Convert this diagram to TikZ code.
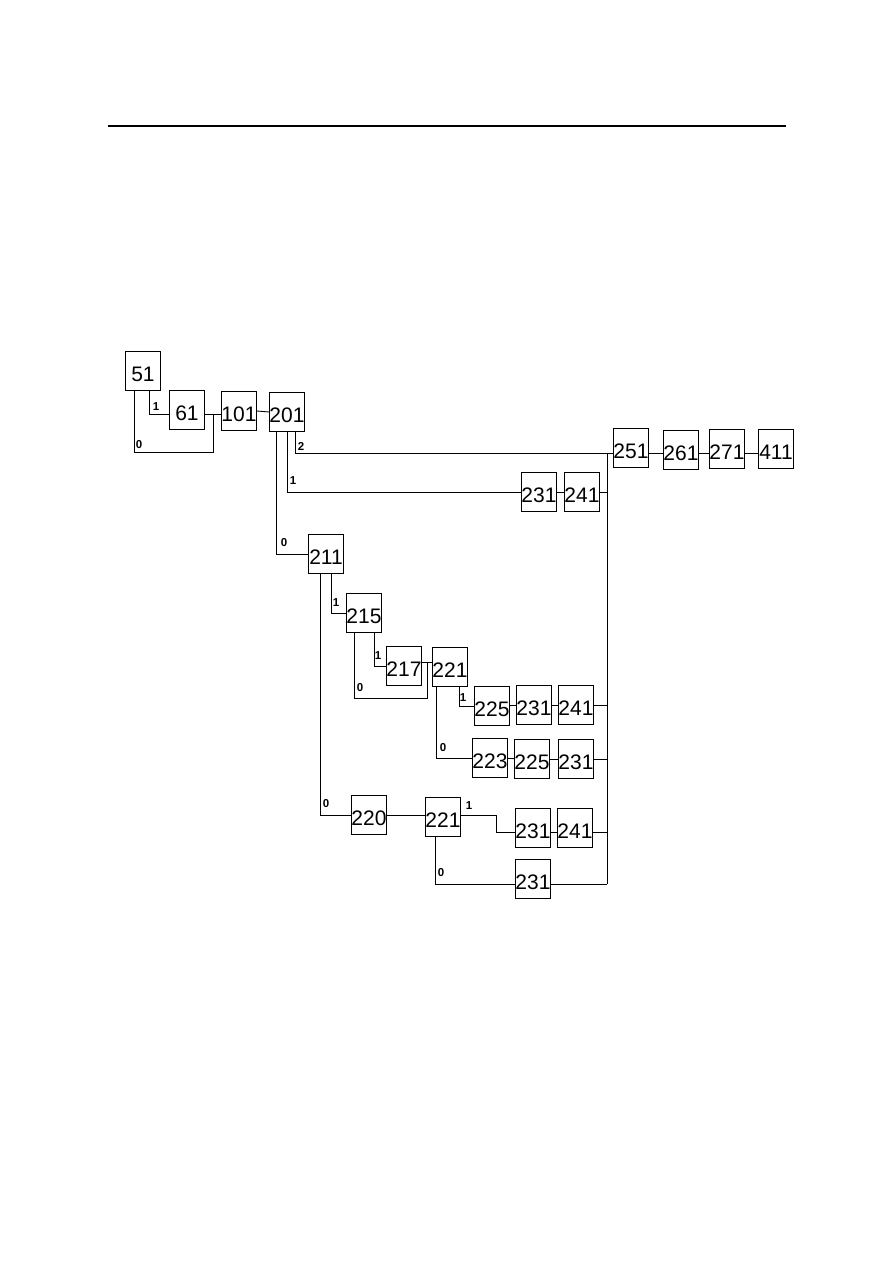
\documentclass[tikz,border=0pt]{standalone}
\usepackage{fontspec}
\setmainfont{Liberation Sans}
\usetikzlibrary{positioning}

\begin{document}
\begin{tikzpicture}[x=1pt, y=-1pt,
		box/.style={draw, line width=0.9pt, minimum width=35pt, minimum height=39pt, inner sep=0pt, text height=20pt, text depth=0pt, font=\fontsize{21}{21}\selectfont},
		lbl/.style={inner sep=0pt, font=\fontsize{11.5}{11.5}\selectfont\bfseries},
		wire/.style={line width=0.9pt}]
		\useasboundingbox (0,0) rectangle (893,1263);
		\draw[line width=2pt] (108,126) -- (786,126);

		\node[box] (n51) at (143, 371) {51};
		\node[box] (n61) at (187, 410) {61};
		\node[box] (n101) at (239, 411) {101};
		\node[box] (n201) at (287, 412) {201};
		\node[box] (n251) at (631, 448) {251};
		\node[box] (n261) at (681, 450) {261};
		\node[box] (n271) at (727, 449) {271};
		\node[box] (n411) at (776, 449) {411};
		\node[box] (n231a) at (539, 492) {231};
		\node[box] (n241a) at (582, 492) {241};
		\node[box] (n211) at (326, 554) {211};
		\node[box] (n215) at (364, 613) {215};
		\node[box] (n217) at (404, 666) {217};
		\node[box] (n221a) at (450, 667) {221};
		\node[box] (n225a) at (492, 706) {225};
		\node[box] (n231b) at (534, 705) {231};
		\node[box] (n241b) at (576, 705) {241};
		\node[box] (n223) at (490, 758) {223};
		\node[box] (n225b) at (532, 759) {225};
		\node[box] (n231c) at (576, 759) {231};
		\node[box] (n220) at (369, 815) {220};
		\node[box] (n221b) at (443, 817) {221};
		\node[box] (n231d) at (533, 828) {231};
		\node[box] (n241c) at (575, 828) {241};
		\node[box] (n231e) at (533, 879) {231};

		\coordinate (j1) at (213, 414);
		\coordinate (j2) at (427, 662);
		\coordinate (bus) at (607, 453);
		\coordinate (busend) at (607, 884);

		% start
		\draw[wire] ([xshift=6]n51.south) |- ([yshift=-4]n61.west);
		\draw[wire] ([xshift=-9]n51.south) -- ++(0,61) -| (j1);
		\draw[wire] ([yshift=-4]n61.east) -- (n101.west |- j1);
		\draw[wire] (n101.east) -- (n201.west);

		% branches of 201
		\draw[wire] ([xshift=8]n201.south) |- (n251.west |- bus);
		\draw[wire] (n201.south) |- (n231a.west);
		\draw[wire] ([xshift=-11]n201.south) |- (n211.west);
		\draw[wire] (n231a) -- (n241a);
		\draw[wire] (n241a.east) -- (n241a.east -| bus);

		% tail
		\draw[wire] (n251.east |- bus) -- (n261.west |- bus);
		\draw[wire] (n261.east |- bus) -- (n271.west |- bus);
		\draw[wire] (n271.east |- bus) -- (n411.west |- bus);
		\draw[wire] (bus) -- (busend);

		% branches of 211
		\draw[wire] ([xshift=5]n211.south) |- (n215.west);
		\draw[wire] ([xshift=-6]n211.south) |- (n220.west);
		\draw[wire] ([xshift=10]n215.south) |- (n217.west);
		\draw[wire] ([xshift=-10]n215.south) -- ++(0,65) -| (j2);
		\draw[wire] ([yshift=4]n217.east) -- (n221a.west |- j2);

		% branches of upper 221
		\draw[wire] ([xshift=9]n221a.south) |- (n225a.west);
		\draw[wire] ([xshift=-14]n221a.south) |- (n223.west);
		\draw[wire] (n225a) -- (n231b);
		\draw[wire] (n231b) -- (n241b);
		\draw[wire] (n241b.east) -- (n241b.east -| bus);
		\draw[wire] (n223) -- (n225b);
		\draw[wire] (n225b) -- (n231c);
		\draw[wire] (n231c.east) -- (n231c.east -| bus);

		% branches of lower 221
		\draw[wire] (n220.east) -- (n221b.west |- n220.east);
		\draw[wire] ([yshift=2]n221b.east) -- ++(35,0) |- ([yshift=-4]n231d.west);
		\draw[wire] ([yshift=-4]n231d.east) -- ([yshift=-4]n241c.west);
		\draw[wire] ([yshift=-4]n241c.east) -- ([yshift=-4]n241c.east -| bus);
		\draw[wire] ([xshift=-8]n221b.south) |- (n231e.west |- busend);
		\draw[wire] (n231e.east |- busend) -- (busend);

		\node[lbl] (l51a) at (156, 407) {1};
		\node[lbl] (l51b) at (139, 445) {0};
		\node[lbl] (l201c) at (301, 446) {2};
		\node[lbl] (l201b) at (293, 481) {1};
		\node[lbl] (l201a) at (284, 543) {0};
		\node[lbl] (l211b) at (336, 603) {1};
		\node[lbl] (l215b) at (378, 656) {1};
		\node[lbl] (l215a) at (360, 688) {0};
		\node[lbl] (l221b) at (463, 698) {1};
		\node[lbl] (l221a) at (443, 748) {0};
		\node[lbl] (l211a) at (326, 804) {0};
		\node[lbl] (l221d) at (469, 806) {1};
		\node[lbl] (l221c) at (441, 873) {0};
\end{tikzpicture}
\end{document}
